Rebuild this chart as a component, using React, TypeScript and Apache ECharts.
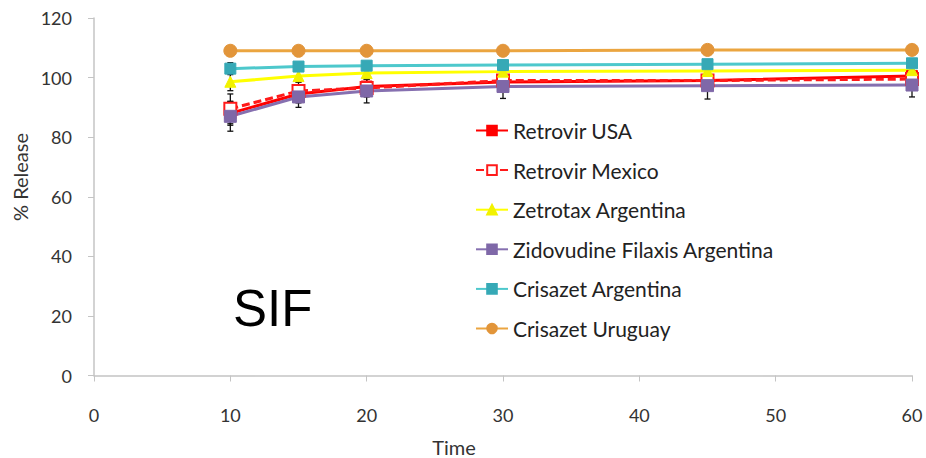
import React, { useEffect, useRef } from "react";
import * as echarts from "echarts";

const times = [10, 15, 20, 30, 45, 60];
const xTicks = [0, 10, 20, 30, 40, 50, 60];
const yTicks = [0, 20, 40, 60, 80, 100, 120];

const retrovirUSA = [88, 94.5, 97, 98.5, 99, 100.5];
const retrovirMexico = [89.5, 95.5, 96.5, 99, 99, 99.5];
const zetrotax = [98.6, 100.5, 101.5, 102, 102.2, 102.5];
const zidovudine = [87, 93.5, 95.5, 97, 97.3, 97.5];
const crisazetArg = [103, 103.7, 104, 104.2, 104.5, 104.8];
const crisazetUru = [109, 109, 109, 109, 109.3, 109.3];

const sdUSA = [4, 3, 3, 2, 2, 2];
const sdMexico = [5, 3, 3, 2, 2, 2];
const sdZetrotax = [3, 2, 2, 1, 1, 1];
const sdZidovudine = [5, 3.5, 4, 4, 4.5, 4];
const sdCrisazetArg = [2, 1, 1, 1, 1, 1];
const sdCrisazetUru = [1, 0.5, 0.5, 0.5, 0.5, 0.5];

const names = [
  "Retrovir USA",
  "Retrovir Mexico",
  "Zetrotax Argentina",
  "Zidovudine Filaxis Argentina",
  "Crisazet Argentina",
  "Crisazet Uruguay",
];

const FONT = "Lato, 'Open Sans', sans-serif";

export default function App() {
  const ref = useRef<HTMLDivElement>(null);
  useEffect(() => {
    document.body.style.margin = "0";
    if (!ref.current) return;
    const chart = echarts.init(ref.current, undefined, { renderer: "svg" });

    const pairs = (vals: number[]) => times.map((t, i) => [t, vals[i]]);
    const errData = (vals: number[], sd: number[]) =>
      times.map((t, i) => [t, vals[i] - sd[i], vals[i] + sd[i]]);

    const allErr = [
      ...errData(retrovirUSA, sdUSA),
      ...errData(retrovirMexico, sdMexico),
      ...errData(zetrotax, sdZetrotax),
      ...errData(zidovudine, sdZidovudine),
      ...errData(crisazetArg, sdCrisazetArg),
      ...errData(crisazetUru, sdCrisazetUru),
    ];

    const lineSeries = (
      name: string,
      vals: number[],
      color: string,
      markerColor: string,
      symbol: string,
      symbolSize: number,
      extra: any = {}
    ) => ({
      type: "line",
      name,
      data: pairs(vals),
      symbol,
      symbolSize,
      lineStyle: { color, width: 3 },
      itemStyle: { color: markerColor, borderColor: markerColor, borderWidth: 1 },
      z: 3,
      ...extra,
    });

    chart.setOption({
      animation: false,
      backgroundColor: "#ffffff",
      grid: { left: 94, right: 14, top: 18, bottom: 82.5, containLabel: false },
      legend: {
        data: names,
        orient: "vertical",
        left: 470,
        top: 115,
        itemWidth: 32,
        itemHeight: 12,
        itemGap: 18.6,
        textStyle: { fontFamily: FONT, fontSize: 21, color: "#222" },
      },
      xAxis: {
        type: "value",
        min: 0,
        max: 60,
        interval: 10,
        axisLine: { lineStyle: { color: "#c4c4c4", width: 1.5 } },
        axisTick: { show: true, length: 6, lineStyle: { color: "#c4c4c4" } },
        axisLabel: {
          fontFamily: FONT,
          fontSize: 18,
          color: "#333",
          margin: 30,
          formatter: (v: number) => (xTicks.includes(v) ? String(v) : ""),
        },
        splitLine: { show: false },
      },
      yAxis: {
        type: "value",
        min: 0,
        max: 120,
        interval: 20,
        axisLine: { show: true, lineStyle: { color: "#c4c4c4", width: 1.5 } },
        axisTick: { show: true, length: 6, lineStyle: { color: "#c4c4c4" } },
        axisLabel: {
          fontFamily: FONT,
          fontSize: 18,
          color: "#333",
          margin: 22,
          formatter: (v: number) => (yTicks.includes(v) ? String(v) : ""),
        },
        splitLine: { show: false },
      },
      graphic: [
        {
          type: "text",
          left: 233,
          top: 283,
          style: {
            text: "SIF",
            fontSize: 51,
            fontFamily: "'Liberation Sans', Arial, sans-serif",
            fill: "#000",
          },
          z: 10,
        },
        {
          type: "text",
          x: 20,
          y: 177,
          rotation: Math.PI / 2,
          style: {
            text: "% Release",
            fontSize: 20,
            fontFamily: FONT,
            fill: "#333",
            align: "center",
            verticalAlign: "middle",
          },
        },
        {
          type: "text",
          x: 454,
          y: 447,
          style: {
            text: "Time",
            fontSize: 20,
            fontFamily: FONT,
            fill: "#333",
            align: "center",
            verticalAlign: "middle",
          },
        },
      ],
      series: [
        {
          type: "custom",
          name: "errors",
          data: allErr,
          z: 2,
          silent: true,
          renderItem: (params: any, api: any) => {
            const x = api.value(0);
            const lo = api.coord([x, api.value(1)]);
            const hi = api.coord([x, api.value(2)]);
            const w = 3;
            const st = { stroke: "#111", lineWidth: 1.3 };
            return {
              type: "group",
              children: [
                { type: "line", shape: { x1: lo[0], y1: lo[1], x2: hi[0], y2: hi[1] }, style: st },
                { type: "line", shape: { x1: lo[0] - w, y1: lo[1], x2: lo[0] + w, y2: lo[1] }, style: st },
                { type: "line", shape: { x1: hi[0] - w, y1: hi[1], x2: hi[0] + w, y2: hi[1] }, style: st },
              ],
            };
          },
        },
        lineSeries(names[0], retrovirUSA, "#ff0000", "#ff0000", "rect", 11),
        lineSeries(names[1], retrovirMexico, "#ff1a1a", "#ffffff", "rect", 12, {
          lineStyle: { color: "#ff1a1a", width: 3, type: [8, 4] },
          itemStyle: { color: "#ffffff", borderColor: "#ff1a1a", borderWidth: 2 },
        }),
        lineSeries(names[2], zetrotax, "#ffff00", "#f2f200", "triangle", 11),
        lineSeries(names[3], zidovudine, "#8670b0", "#7f68a8", "rect", 12),
        lineSeries(names[4], crisazetArg, "#4dc8cc", "#36a9b6", "rect", 11),
        lineSeries(names[5], crisazetUru, "#eba540", "#e2953a", "circle", 13),
      ],
    });
    return () => chart.dispose();
  }, []);
  return <div ref={ref} style={{ width: 926, height: 458 }} />;
}
